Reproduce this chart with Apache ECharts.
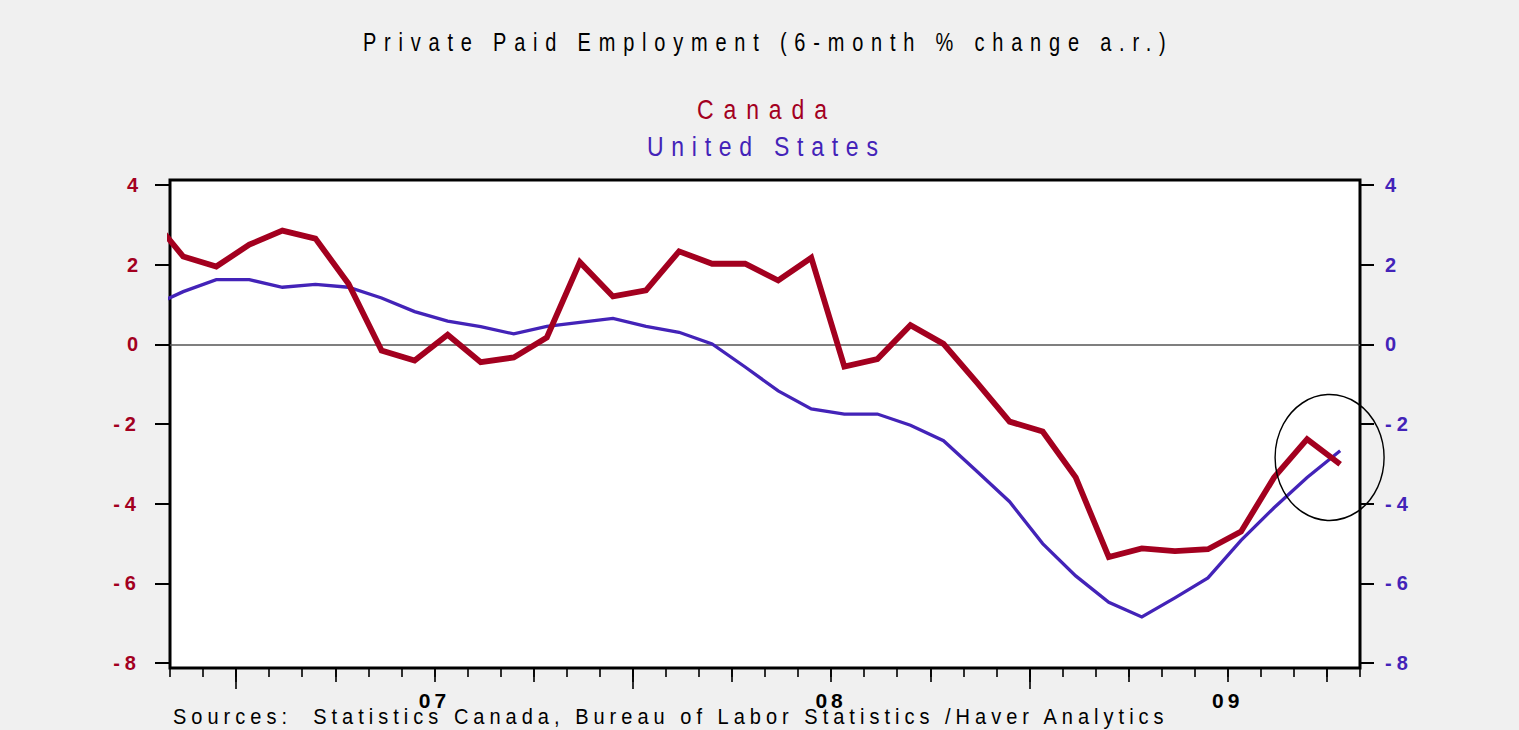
<!DOCTYPE html>
<html>
<head>
<meta charset="utf-8">
<script src="https://cdn.jsdelivr.net/npm/echarts@6/dist/echarts.min.js"></script>
<style>
html,body{margin:0;padding:0;background:#f0f0f0;}
#chart{width:1519px;height:730px;}
</style>
</head>
<body>
<div id="chart"></div>
<script>
// ---------------- data ----------------
const months = [
  '2006-10','2006-11','2006-12',
  '2007-01','2007-02','2007-03','2007-04','2007-05','2007-06','2007-07','2007-08','2007-09','2007-10','2007-11','2007-12',
  '2008-01','2008-02','2008-03','2008-04','2008-05','2008-06','2008-07','2008-08','2008-09','2008-10','2008-11','2008-12',
  '2009-01','2009-02','2009-03','2009-04','2009-05','2009-06','2009-07','2009-08','2009-09','2009-10'
];
const canada = [
  3.21, 2.20, 1.95, 2.50, 2.85, 2.65, 1.52, -0.16, -0.41, 0.24, -0.45, -0.33, 0.17,
  2.06, 1.20, 1.35, 2.33, 2.02, 2.02, 1.60, 2.17, -0.56, -0.37, 0.48, 0.01, -0.95,
  -1.94, -2.19, -3.34, -5.34, -5.12, -5.19, -5.14, -4.70, -3.34, -2.38, -3.01
];
const unitedStates = [
  0.94, 1.32, 1.62, 1.62, 1.43, 1.50, 1.43, 1.16, 0.82, 0.58, 0.44, 0.26, 0.45,
  0.55, 0.65, 0.45, 0.30, 0.01, -0.57, -1.17, -1.62, -1.75, -1.75, -2.03, -2.42, -3.18,
  -3.95, -5.00, -5.81, -6.47, -6.84, -6.36, -5.86, -4.92, -4.10, -3.34, -2.67
];
const yTicks = [-8, -6, -4, -2, 0, 2, 4];
const titleText = 'Private Paid Employment (6-month % change a.r.)';
const seriesNames = ['Canada', 'United States'];
const sourceText = 'Sources:  Statistics Canada, Bureau of Labor Statistics /Haver Analytics';

// ---------------- styling / layout ----------------
const RED = '#A3001F';
const BLUE = '#4323B8';
const FONT = 'Arial, sans-serif';
const X_MIN = 0.6, X_MAX = 36.6;      // first visible month boundary .. last
const Y_MIN = -8.12, Y_MAX = 4.12;
const OFF = 0.4;                       // data point sits 0.4 month after tick

const calMonth = i => parseInt(months[i].slice(5), 10) - 1;
const monthTicks = [], quarterTicks = [], yearTicks = [], yearLabelPos = [], yearLabelTxt = {};
for (let i = 1; i <= months.length; i++) {
  const b = i - OFF;
  monthTicks.push(b);
  const cm = i < months.length ? calMonth(i) : (calMonth(i - 1) + 1) % 12;
  if (cm % 3 === 0) quarterTicks.push(b);
  if (cm === 0) {
    yearTicks.push(b);
    if (i < months.length) {
      const p = b + 6;
      yearLabelPos.push(p);
      yearLabelTxt[p.toFixed(2)] = months[i].slice(2, 4);
    }
  }
}

const dom = document.getElementById('chart');
const chart = echarts.init(dom, null, { renderer: 'svg' });

function xAx(ticks, len, labels) {
  return {
    type: 'value', gridIndex: 0, min: X_MIN, max: X_MAX, position: 'bottom',
    axisLine: { show: false, onZero: false }, splitLine: { show: false },
    axisTick: { show: true, customValues: ticks, length: len, lineStyle: { color: '#000', width: 1.6 } },
    axisLabel: labels ? {
      show: true, customValues: yearLabelPos, margin: 22,
      formatter: v => yearLabelTxt[(+v).toFixed(2)] || '',
      color: '#000', fontWeight: 'bold', fontSize: 21, fontFamily: FONT
    } : { show: false }
  };
}
function yAx(pos, color, len, margin) {
  return {
    type: 'value', gridIndex: 0, min: Y_MIN, max: Y_MAX, position: pos,
    axisLine: { show: false, onZero: false }, splitLine: { show: false },
    axisTick: { show: true, customValues: yTicks, length: len, lineStyle: { color: '#000', width: 2 } },
    axisLabel: { show: true, customValues: yTicks, margin: margin, color: color,
      fontWeight: 'bold', fontSize: 20, fontFamily: FONT }
  };
}

const option = {
  animation: false,
  backgroundColor: '#f0f0f0',
  grid: [{ left: 170, right: 159, top: 180, bottom: 62, show: true,
    backgroundColor: '#ffffff', borderColor: '#000', borderWidth: 3, containLabel: false }],
  xAxis: [xAx(monthTicks, 9, false), xAx(quarterTicks, 14, false), xAx(yearTicks, 21, true)],
  yAxis: [yAx('left', RED, 15, 29), yAx('right', BLUE, 14, 25)],
  series: [
    { type: 'line', name: 'zero', data: [], xAxisIndex: 0, yAxisIndex: 0, z: 1, silent: true,
      markLine: { silent: true, z: 1, symbol: ['none', 'none'], label: { show: false },
        lineStyle: { color: '#555', width: 1.5, type: 'solid' }, data: [{ yAxis: 0 }] } },
    { type: 'line', name: seriesNames[1], xAxisIndex: 0, yAxisIndex: 1, z: 3,
      data: months.map((m, i) => [i, unitedStates[i]]), symbol: 'none', clip: true,
      lineStyle: { color: BLUE, width: 3.3, join: 'miter' } },
    { type: 'line', name: seriesNames[0], xAxisIndex: 0, yAxisIndex: 0, z: 4,
      data: months.map((m, i) => [i, canada[i]]), symbol: 'none', clip: true,
      lineStyle: { color: RED, width: 5.8, join: 'miter' } }
  ]
};
chart.setOption(option);

// text blocks: left x, centre y, size, vertical stretch, colour, target width
const textBlocks = [
  { text: titleText, x: 363, y: 42, size: 20, sy: 1.32, color: '#000', width: 803 },
  { text: seriesNames[0], x: 697, y: 109.7, size: 23, sy: 1.17, color: RED, width: 130 },
  { text: seriesNames[1], x: 647, y: 146.3, size: 23, sy: 1.17, color: BLUE, width: 231 },
  { text: sourceText, x: 173, y: 715.8, size: 20, sy: 1.08, color: '#000', width: 992 }
];
// annotation ellipse (in axis units)
const ELLIPSE = { x: 35.68, y: -2.84, rx: 54.5, ry: 63 };
const c = chart.convertToPixel({ xAxisIndex: 0, yAxisIndex: 0 }, [ELLIPSE.x, ELLIPSE.y]);

const graphics = textBlocks.map(b => ({
  type: 'text', x: b.x, y: b.y, scaleY: b.sy, z: 50, silent: true,
  style: { text: b.text, fill: b.color, fontSize: b.size, fontFamily: FONT, fontWeight: 'normal',
    textAlign: 'left', textVerticalAlign: 'middle', verticalAlign: 'middle' }
}));
graphics.push({
  type: 'circle', x: c[0], y: c[1], scaleY: ELLIPSE.ry / ELLIPSE.rx, z: 60, silent: true,
  shape: { cx: 0, cy: 0, r: ELLIPSE.rx },
  style: { fill: 'none', stroke: '#000', lineWidth: 1.4 }
});
chart.setOption({ graphic: graphics });

// letter spacing (EViews style wide tracking)
const mctx = document.createElement('canvas').getContext('2d');
function applySpacing() {
  dom.querySelectorAll('text').forEach(t => {
    const s = t.textContent;
    const blk = textBlocks.find(b => b.text === s);
    if (blk) {
      mctx.font = blk.size + 'px ' + FONT;
      const w = mctx.measureText(s).width;
      const ls = (blk.width - w) / (s.length - 1);
      t.style.letterSpacing = ls.toFixed(2) + 'px';
    } else if (/^-?\d+$/.test(s)) {
      t.style.letterSpacing = (s[0] === '-' ? 5 : (s.length === 2 ? 4 : 3)) + 'px';
    }
  });
}
chart.on('finished', applySpacing);
setTimeout(applySpacing, 50);
setTimeout(applySpacing, 300);
</script>
</body>
</html>
